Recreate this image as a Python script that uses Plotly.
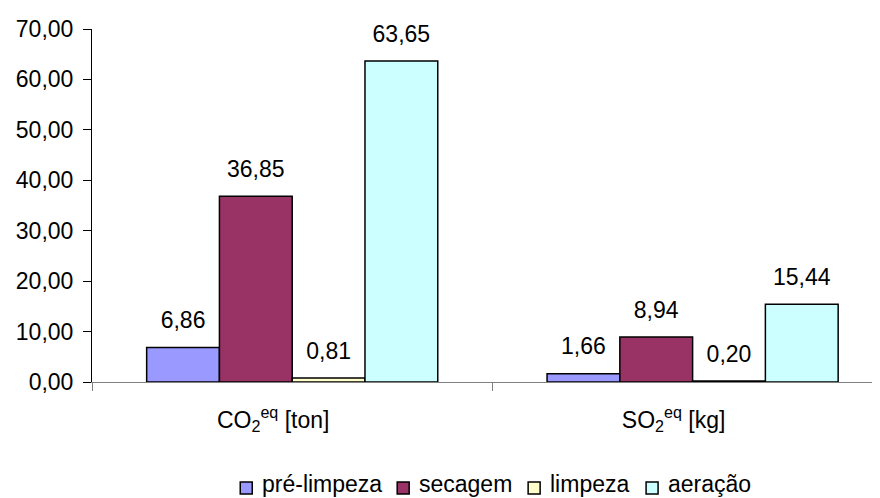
import plotly.graph_objects as go

categories = ["CO<sub>2</sub><sup>eq</sup> [ton]", "SO<sub>2</sub><sup>eq</sup> [kg]"]
series_names = ["pré-limpeza", "secagem", "limpeza", "aeração"]
pre_limpeza = [6.86, 1.66]
secagem = [36.85, 8.94]
limpeza = [0.81, 0.20]
aeracao = [63.65, 15.44]
colors = ["#9999FF", "#993366", "#FFFFCC", "#CCFFFF"]
y_ticks = [0, 10, 20, 30, 40, 50, 60, 70]

series = [pre_limpeza, secagem, limpeza, aeracao]
FONT = "Liberation Sans, Arial, sans-serif"
FS = 23

# page geometry (the page body has an 8px default margin)
W, H = 872, 490
ML, MR, MT, MB = 83.7, 0, 21, 116
PW, PH = W - ML - MR, H - MT - MB
# legend entry left edges (page px), symbol row centre and text row centre
legend_x = [240, 397, 528, 646]
legend_sym_y = 488
legend_txt_y = 484

def px_to_paper_x(px):
    return (px - 8 - ML) / PW

def px_to_paper_y(py):
    return (H - MB - (py - 8)) / PH

fig = go.Figure()
for name, vals, col in zip(series_names, series, colors):
    fig.add_trace(go.Bar(
        x=categories, y=vals, name=name, showlegend=False,
        marker=dict(color=col, line=dict(color="black", width=1.5)),
    ))
for name, vals in zip(series_names, series):
    fig.add_trace(go.Scatter(
        x=categories, y=vals, mode="markers+text",
        text=[f"{v:.2f}".replace(".", ",") for v in vals],
        textposition="top center",
        textfont=dict(family=FONT, size=FS, color="black"),
        marker=dict(size=20, opacity=0),
        showlegend=False, hoverinfo="skip", cliponaxis=False,
    ))

# legend built from the series names and colours
for name, col, lx in zip(series_names, colors, legend_x):
    fig.add_shape(type="rect", xref="paper", yref="paper",
                  x0=px_to_paper_x(lx), x1=px_to_paper_x(lx + 12),
                  y0=px_to_paper_y(legend_sym_y + 6), y1=px_to_paper_y(legend_sym_y - 6),
                  fillcolor=col, line=dict(color="black", width=1.5))
    fig.add_annotation(text=name, xref="paper", yref="paper",
                       x=px_to_paper_x(lx + 20), y=px_to_paper_y(legend_txt_y),
                       xanchor="left", yanchor="middle", showarrow=False,
                       font=dict(family=FONT, size=FS, color="black"))

fig.update_layout(
    width=W, height=H,
    margin=dict(l=ML, r=MR, t=MT, b=MB, autoexpand=False),
    paper_bgcolor="white", plot_bgcolor="white",
    barmode="group", bargap=0.273, bargroupgap=0,
    scattermode="group", scattergap=0.273,
    separators=",.",
    font=dict(family=FONT, size=FS, color="black"),
    showlegend=False,
)
fig.update_yaxes(range=[0, 70], tickvals=y_ticks, tickformat=".2f", automargin=False,
                 showline=True, linecolor="black", linewidth=1,
                 ticks="outside", ticklen=8, tickcolor="black",
                 showgrid=False, zeroline=False, ticklabelstandoff=5,
                 tickfont=dict(family=FONT, size=FS, color="black"))
fig.update_xaxes(range=[-0.5, 1.468], showline=True, linecolor="#808080", linewidth=1,
                 automargin=False,
                 ticks="outside", tickson="boundaries", ticklen=8, tickcolor="#808080",
                 showgrid=False, ticklabelshift=-19, ticklabelstandoff=17,
                 tickfont=dict(family=FONT, size=FS, color="black"))

fig.write_html("out.html", config={"displayModeBar": False})
